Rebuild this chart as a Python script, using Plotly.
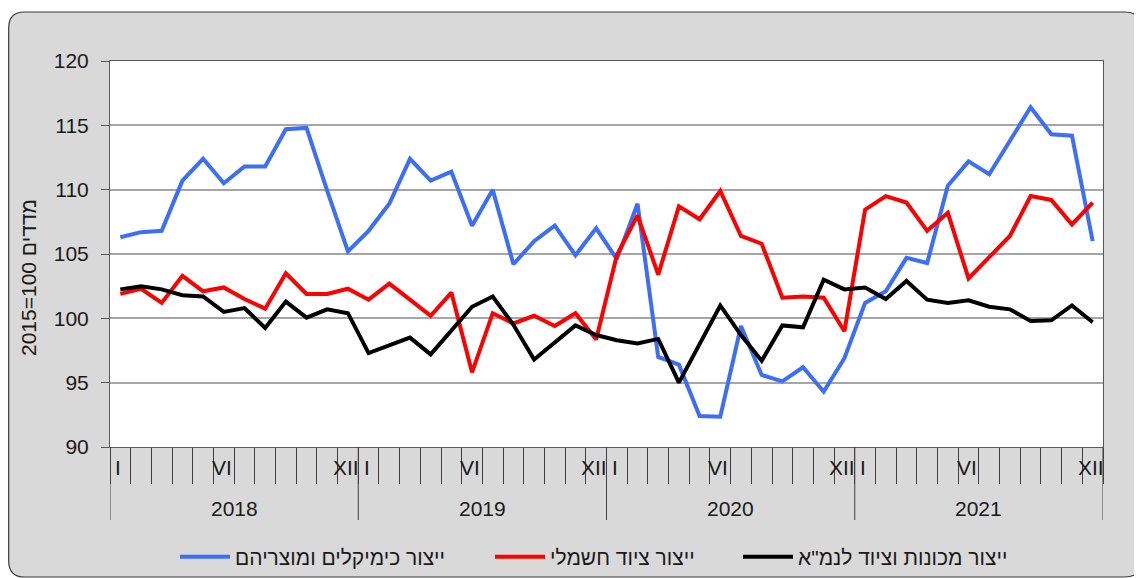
import plotly.graph_objects as go

# monthly index values, Jan 2018 .. Dec 2021
years = ['2018', '2019', '2020', '2021']
roman_months = ['I', 'VI', 'XII']
roman_index = [0, 5, 11]

chemicals = [106.3, 106.7, 106.8, 110.7, 112.4, 110.5, 111.8, 111.8, 114.7, 114.8, 109.9, 105.2,
             106.8, 108.9, 112.4, 110.7, 111.4, 107.2, 110.0, 104.2, 106.0, 107.2, 104.9, 107.0,
             104.6, 108.9, 97.0, 96.4, 92.4, 92.35, 99.4, 95.6, 95.1, 96.2, 94.3, 96.9,
             101.2, 102.1, 104.7, 104.3, 110.3, 112.2, 111.2, 113.8, 116.4, 114.3, 114.2, 106.0]

electrical = [101.9, 102.3, 101.2, 103.3, 102.1, 102.4, 101.5, 100.75, 103.5, 101.9, 101.9, 102.3,
              101.45, 102.7, 101.45, 100.2, 102.0, 95.8, 100.4, 99.6, 100.2, 99.4, 100.4, 98.35,
              104.9, 108.0, 103.4, 108.7, 107.7, 109.9, 106.4, 105.8, 101.6, 101.7, 101.6, 99.0,
              108.45, 109.5, 109.0, 106.8, 108.2, 103.1, 104.75, 106.4, 109.5, 109.2, 107.3, 109.0]

machinery = [102.25, 102.5, 102.25, 101.8, 101.7, 100.5, 100.8, 99.25, 101.3, 100.05, 100.7, 100.4,
             97.3, 97.9, 98.5, 97.2, 99.0, 100.9, 101.7, 99.5, 96.8, 98.1, 99.45, 98.7,
             98.3, 98.05, 98.4, 95.0, 98.05, 101.0, 98.7, 96.7, 99.45, 99.3, 103.0, 102.25,
             102.4, 101.5, 102.9, 101.45, 101.2, 101.4, 100.9, 100.7, 99.8, 99.85, 101.0, 99.7]

series_names = ['ייצור כימיקלים ומוצריהם', 'ייצור ציוד חשמלי', 'ייצור מכונות וציוד לנמ"א']
series_values = [chemicals, electrical, machinery]
series_colors = ['#3d6ef7', '#ff0000', '#000000']

# page is drawn inside the default 8px body margin, so the figure is 8px smaller
W, H = 1134, 570
L, R, T, B = 102, 39, 53, 131
pw, ph = W - L - R, H - T - B
FONT = 'Liberation Sans, Arial, sans-serif'
FS = 21


# page pixel -> paper coordinate
def px_x(x):
    return (x - 8 - L) / pw


def px_y(y):
    return (H - B + 8 - y) / ph


months = list(range(len(chemicals)))

fig = go.Figure()
legend_ids = ['legend', 'legend2', 'legend3']
for name, vals, col, lg in zip(series_names, series_values, series_colors, legend_ids):
    fig.add_trace(go.Scatter(x=months, y=vals, name=name, mode='lines', legend=lg,
                             line=dict(color=col, width=4)))

# grey rounded frame behind everything, white plot area on top of it
x0, x1, yt, yb = px_x(8.7), px_x(1141), px_y(12), px_y(577)
rx, ry = 16 / pw, 16 / ph
frame = (f'M {x0 + rx},{yt} L {x1 - rx},{yt} Q {x1},{yt} {x1},{yt - ry} '
         f'L {x1},{yb + ry} Q {x1},{yb} {x1 - rx},{yb} L {x0 + rx},{yb} '
         f'Q {x0},{yb} {x0},{yb + ry} L {x0},{yt - ry} Q {x0},{yt} {x0 + rx},{yt} Z')
shapes = [
    dict(type='path', xref='paper', yref='paper', path=frame, fillcolor='#d9d9d9',
         line=dict(color='#3a3a3a', width=1.2), layer='below'),
    dict(type='rect', xref='paper', yref='paper', x0=0, x1=1, y0=0, y1=1,
         fillcolor='white', line=dict(width=0), layer='below'),
]

annotations = []
for k, yr in enumerate(years):
    start = 12 * k
    # year separator
    shapes.append(dict(type='line', xref='x', yref='paper', x0=start - 0.5, x1=start - 0.5,
                       y0=0, y1=px_y(520), line=dict(color='#404040', width=1)))
    annotations.append(dict(x=start + 5.5, y=px_y(508), xref='x', yref='paper', text=yr,
                            showarrow=False, xanchor='center', yanchor='middle',
                            font=dict(size=FS, color='#1a1a1a', family=FONT)))
    for idx, lab in zip(roman_index, roman_months):
        annotations.append(dict(x=start + idx, y=px_y(467), xref='x', yref='paper', text=lab,
                                showarrow=False, xshift=-2, xanchor='center', yanchor='middle',
                                font=dict(size=FS, color='#1a1a1a', family=FONT)))
shapes.append(dict(type='line', xref='x', yref='paper', x0=len(months) - 0.5, x1=len(months) - 0.5,
                   y0=0, y1=px_y(520), line=dict(color='#404040', width=1)))

annotations.append(dict(x=px_x(28), y=px_y(278), xref='paper', yref='paper',
                        text='2015=100 מדדים', textangle=-90, showarrow=False,
                        xanchor='center', yanchor='middle',
                        font=dict(size=FS, color='#1a1a1a', family=FONT)))


def legend_at(x):
    return dict(orientation='h', x=px_x(x), xanchor='left', y=px_y(557), yanchor='middle',
                bgcolor='rgba(0,0,0,0)', font=dict(size=FS, family=FONT, color='#1a1a1a'),
                itemwidth=50)


fig.update_layout(
    width=W, height=H,
    margin=dict(l=L, r=R, t=T, b=B, autoexpand=False),
    paper_bgcolor='white', plot_bgcolor='rgba(0,0,0,0)',
    font=dict(family=FONT, size=FS, color='#1a1a1a'),
    shapes=shapes, annotations=annotations,
    showlegend=True,
    legend=legend_at(175), legend2=legend_at(490), legend3=legend_at(738),
)
fig.update_xaxes(range=[-0.5, len(months) - 0.5],
                 tickvals=[i - 0.5 for i in range(len(months) + 1)], ticktext=[''] * (len(months) + 1),
                 ticks='outside', ticklen=36, tickcolor='#404040', tickwidth=1,
                 showgrid=False, zeroline=False, showline=True, linecolor='#595959', linewidth=1,
                 mirror=True)
fig.update_yaxes(range=[90, 120], tickvals=[90, 95, 100, 105, 110, 115, 120],
                 ticks='outside', ticklen=8, tickcolor='#595959', ticklabelstandoff=8,
                 showgrid=True, gridcolor='#a6a6a6', gridwidth=1.5, zeroline=False,
                 showline=True, linecolor='#595959', linewidth=1, mirror=True,
                 tickfont=dict(size=FS, family=FONT, color='#1a1a1a'))

fig.write_html('out.html')
